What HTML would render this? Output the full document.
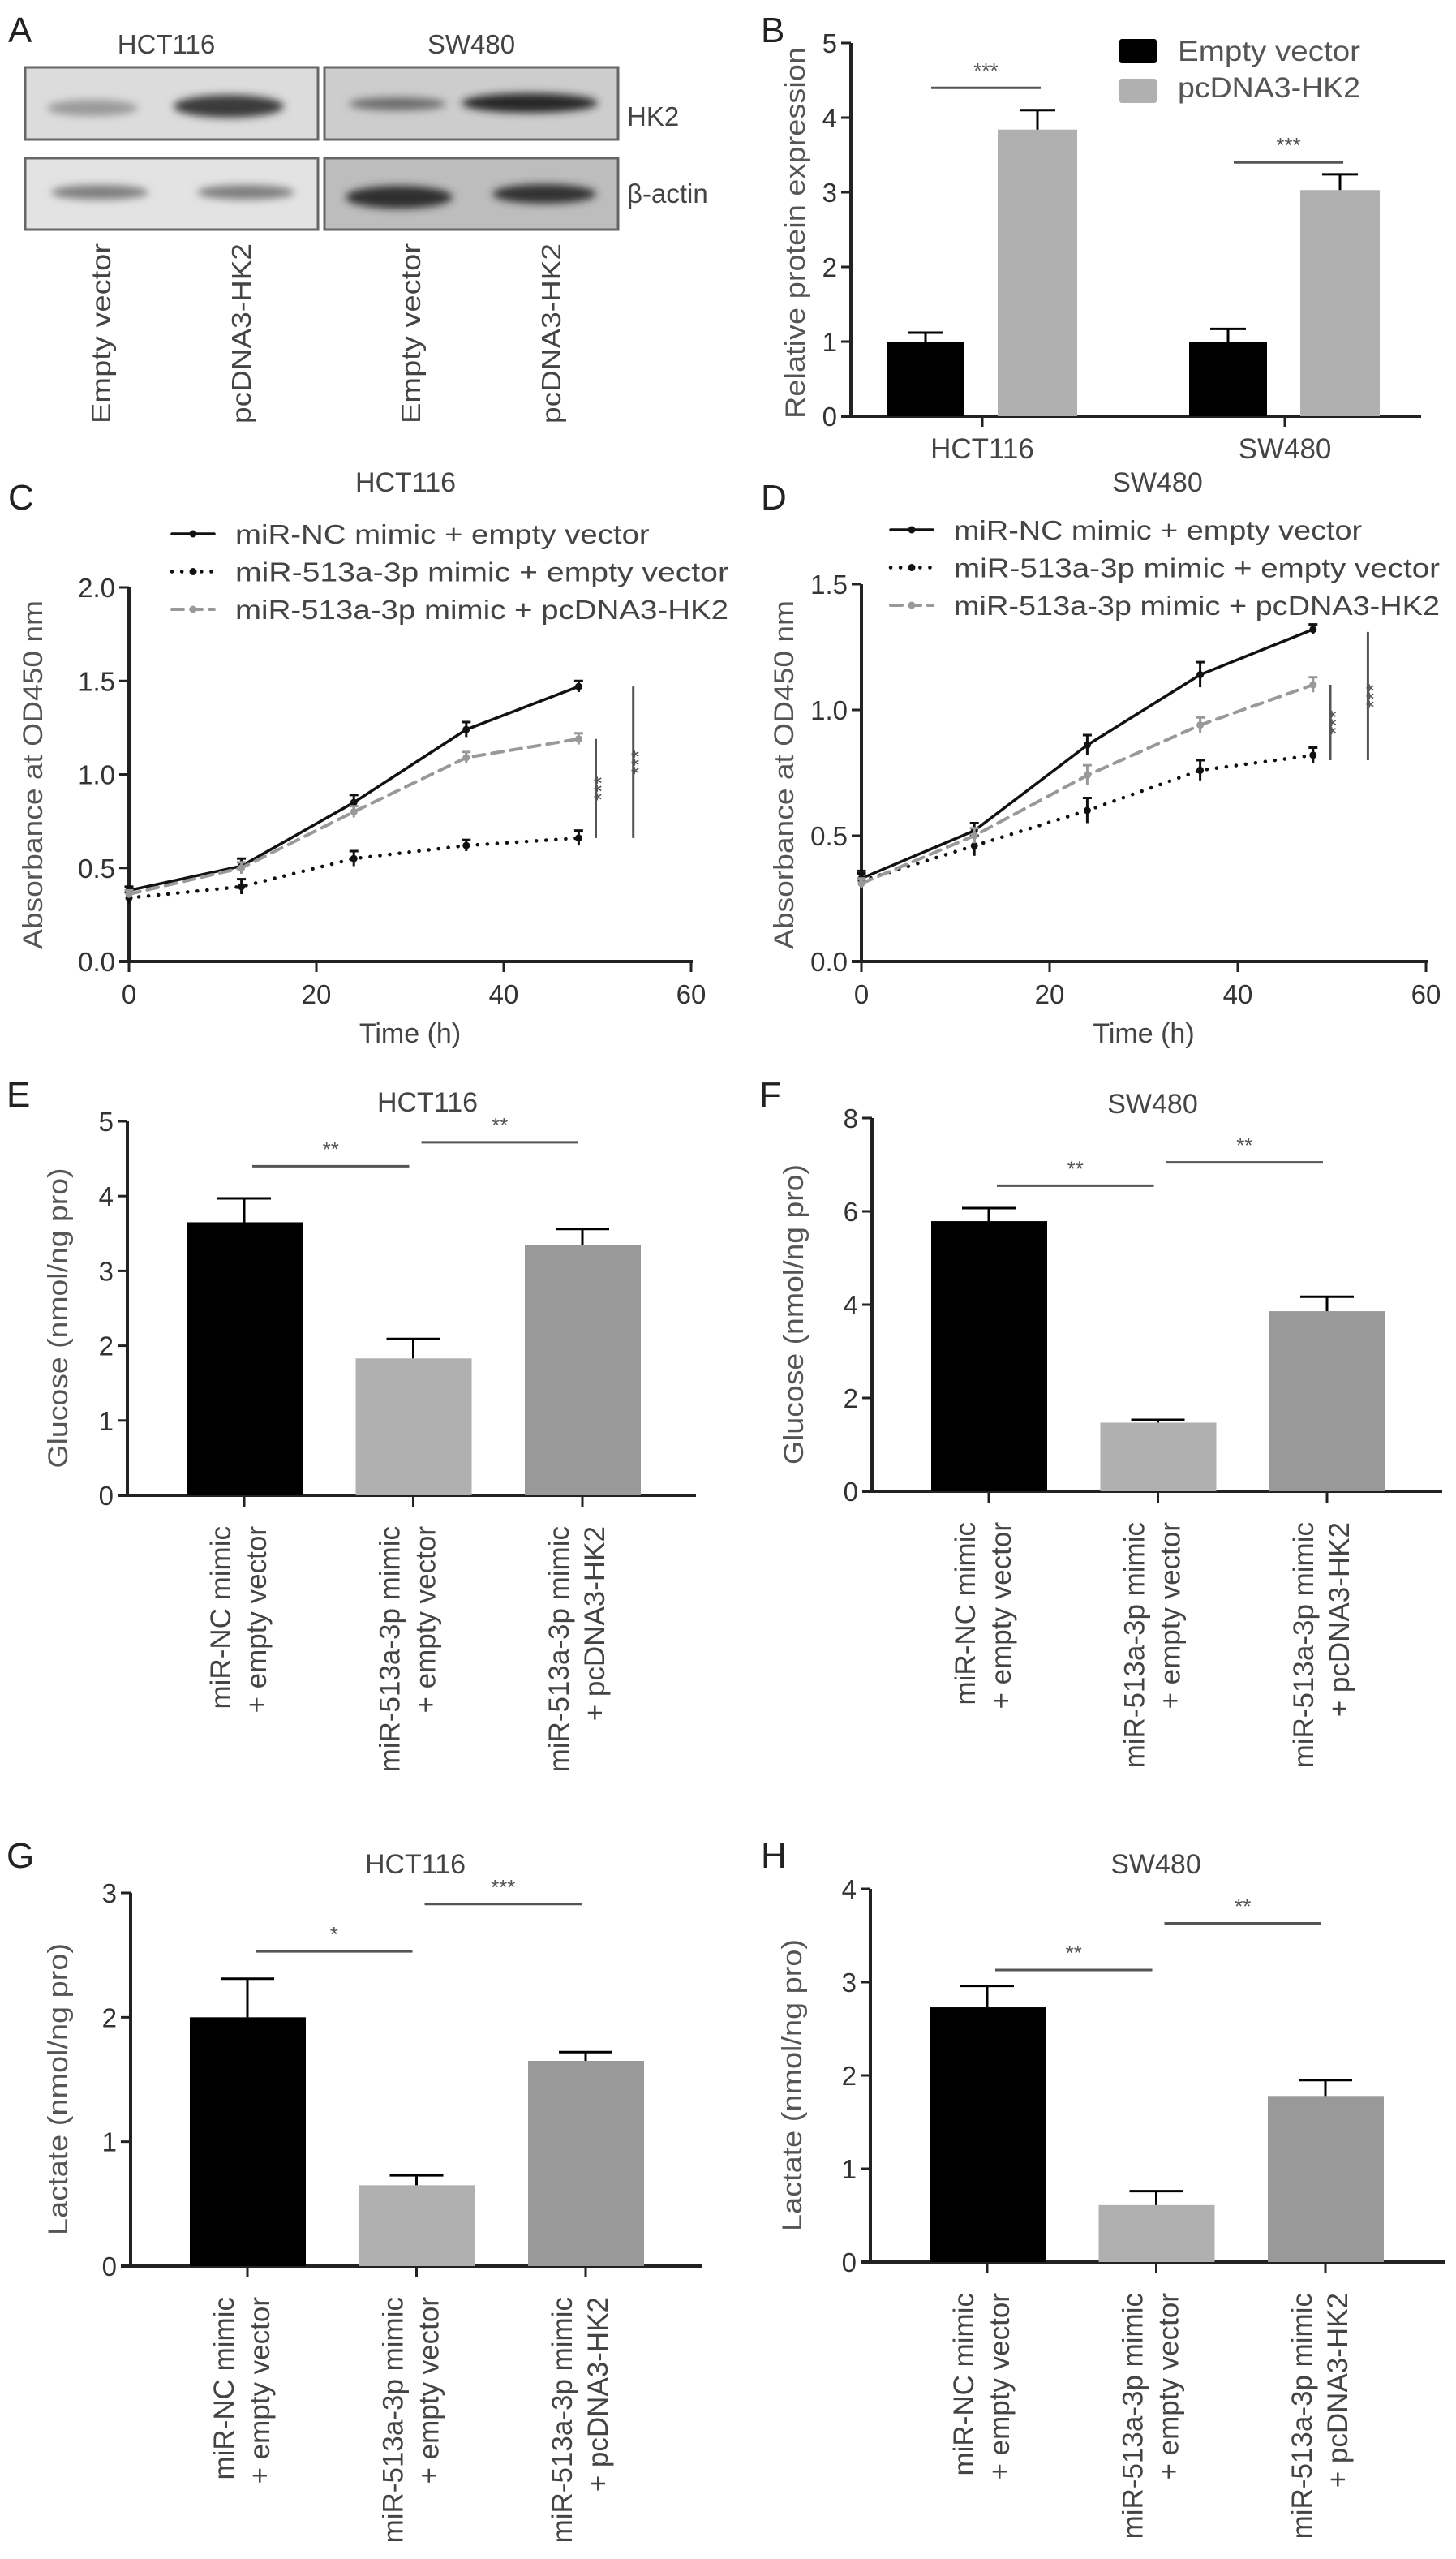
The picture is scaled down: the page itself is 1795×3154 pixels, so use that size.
<!DOCTYPE html>
<html><head><meta charset="utf-8"><title>HK2 figure</title>
<style>
html,body{margin:0;padding:0;background:#fff;}
svg{display:block;font-family:"Liberation Sans",Arial,sans-serif;}
</style></head>
<body>
<svg id="fig" width="1795" height="3154" viewBox="0 0 1795 3154" xmlns="http://www.w3.org/2000/svg">
<defs>
<filter id="blur" x="-30%" y="-80%" width="160%" height="260%"><feGaussianBlur stdDeviation="5"/></filter>
</defs>
<!-- Panel A: western blot -->
<g>
<text x="10" y="52" font-size="44" fill="#222">A</text>
<text x="205" y="66" font-size="33" fill="#444" text-anchor="middle">HCT116</text>
<text x="581" y="66" font-size="33" fill="#444" text-anchor="middle">SW480</text>
<rect x="31" y="83" width="361" height="89" fill="#dcdcdc" stroke="#666" stroke-width="3"/>
<rect x="400" y="83" width="362" height="89" fill="#cdcdcd" stroke="#666" stroke-width="3"/>
<rect x="31" y="195" width="361" height="88" fill="#e3e3e3" stroke="#666" stroke-width="3"/>
<rect x="400" y="195" width="362" height="88" fill="#bdbdbd" stroke="#666" stroke-width="3"/>
<g filter="url(#blur)">
<ellipse cx="114" cy="133" rx="56" ry="10" fill="#9a9a9a"/>
<ellipse cx="282" cy="131" rx="68" ry="14" fill="#3a3a3a"/>
<ellipse cx="490" cy="128" rx="60" ry="8" fill="#6a6a6a"/>
<ellipse cx="653" cy="127" rx="84" ry="12" fill="#262626"/>
<ellipse cx="123" cy="237" rx="60" ry="9" fill="#7e7e7e"/>
<ellipse cx="303" cy="237" rx="60" ry="9" fill="#7e7e7e"/>
<ellipse cx="492" cy="243" rx="66" ry="14" fill="#2e2e2e"/>
<ellipse cx="671" cy="239" rx="64" ry="12" fill="#333"/>
</g>
<text x="773" y="155" font-size="33" fill="#444">HK2</text>
<text x="773" y="250" font-size="33" fill="#444">β-actin</text>
<text transform="translate(136,300) rotate(-90)" font-size="33" fill="#444" text-anchor="end" textLength="222" lengthAdjust="spacingAndGlyphs">Empty vector</text>
<text transform="translate(309,300) rotate(-90)" font-size="33" fill="#444" text-anchor="end" textLength="222" lengthAdjust="spacingAndGlyphs">pcDNA3-HK2</text>
<text transform="translate(518,300) rotate(-90)" font-size="33" fill="#444" text-anchor="end" textLength="222" lengthAdjust="spacingAndGlyphs">Empty vector</text>
<text transform="translate(691,300) rotate(-90)" font-size="33" fill="#444" text-anchor="end" textLength="222" lengthAdjust="spacingAndGlyphs">pcDNA3-HK2</text>
</g>
<text x="938" y="52" font-size="44" fill="#222">B</text>
<text x="10" y="628" font-size="44" fill="#222">C</text>
<text x="938" y="628" font-size="44" fill="#222">D</text>
<text x="8" y="1364" font-size="44" fill="#222">E</text>
<text x="936" y="1364" font-size="44" fill="#222">F</text>
<text x="8" y="2302" font-size="44" fill="#222">G</text>
<text x="938" y="2302" font-size="44" fill="#222">H</text>
</svg>
<script>
// ---------- DATA ----------
// Panel B
const bGroups = ['HCT116', 'SW480'];
const bEmpty = [1.0, 1.0];
const bEmptyErr = [0.12, 0.17];
const bHK2 = [3.84, 3.03];
const bHK2Err = [0.26, 0.21];
const bTicks = [0, 1, 2, 3, 4, 5];
const bSigY = [4.4, 3.4];
const bSigLabel = ['***', '***'];
const bLegend = ['Empty vector', 'pcDNA3-HK2'];

// Panels C/D (time course)
const cdTimes = [0, 12, 24, 36, 48];
const cdXTicks = [0, 20, 40, 60];
const lineLegend = ['miR-NC mimic + empty vector', 'miR-513a-3p mimic + empty vector', 'miR-513a-3p mimic + pcDNA3-HK2'];
const cNC = [0.38, 0.51, 0.85, 1.24, 1.47];
const cNCErr = [0.02, 0.04, 0.04, 0.04, 0.03];
const c513 = [0.34, 0.40, 0.55, 0.62, 0.66];
const c513Err = [0.03, 0.04, 0.04, 0.03, 0.04];
const cHK2 = [0.36, 0.50, 0.80, 1.09, 1.19];
const cHK2Err = [0.02, 0.03, 0.03, 0.03, 0.03];
const cYTicks = ['0.0', '0.5', '1.0', '1.5', '2.0'];
const cSigTop = [1.19, 1.47];
const cSigBottom = [0.66, 0.66];
const dNC = [0.33, 0.52, 0.86, 1.14, 1.32];
const dNCErr = [0.03, 0.03, 0.04, 0.05, 0.02];
const d513 = [0.32, 0.46, 0.60, 0.76, 0.82];
const d513Err = [0.03, 0.04, 0.05, 0.04, 0.03];
const dHK2 = [0.31, 0.50, 0.74, 0.94, 1.10];
const dHK2Err = [0.02, 0.03, 0.04, 0.03, 0.03];
const dYTicks = ['0.0', '0.5', '1.0', '1.5'];
const dSigTop = [1.10, 1.31];
const dSigBottom = [0.80, 0.80];

// Panels E-H (bar charts)
const groupLine1 = ['miR-NC mimic', 'miR-513a-3p mimic', 'miR-513a-3p mimic'];
const groupLine2 = ['+ empty vector', '+ empty vector', '+ pcDNA3-HK2'];
const eValues = [3.65, 1.83, 3.35];
const eErr = [0.32, 0.26, 0.21];
const eTicks = [0, 1, 2, 3, 4, 5];
const eSigY = [4.4, 4.72];
const eSigLabel = ['**', '**'];
const fValues = [5.79, 1.47, 3.86];
const fErr = [0.28, 0.06, 0.31];
const fTicks = [0, 2, 4, 6, 8];
const fSigY = [6.55, 7.05];
const fSigLabel = ['**', '**'];
const gValues = [2.0, 0.65, 1.65];
const gErr = [0.31, 0.08, 0.07];
const gTicks = [0, 1, 2, 3];
const gSigY = [2.53, 2.91];
const gSigLabel = ['*', '***'];
const hValues = [2.73, 0.61, 1.78];
const hErr = [0.23, 0.15, 0.17];
const hTicks = [0, 1, 2, 3, 4];
const hSigY = [3.13, 3.63];
const hSigLabel = ['**', '**'];

// ---------- DRAWING ----------
const NS = 'http://www.w3.org/2000/svg';
const svg = document.getElementById('fig');
function mk(tag, attrs, parent) {
  const e = document.createElementNS(NS, tag);
  for (const k in attrs) e.setAttribute(k, attrs[k]);
  (parent || svg).appendChild(e);
  return e;
}
function tx(s, attrs, parent) { const e = mk('text', attrs, parent); e.textContent = s; return e; }

function axes(g, x0, y0, yTop, xEnd, yMax, ticks, tickLabels) {
  const ya = mk('line', {x1: x0, y1: y0 + 2, x2: x0, y2: yTop, stroke: '#222', 'stroke-width': 4}, g);
  
  
  const xa = mk('line', {x1: x0 - 12, y1: y0, x2: xEnd, y2: y0, stroke: '#222', 'stroke-width': 4}, g);
  
  
  ticks.forEach((t, i) => {
    const y = y0 - t / yMax * (y0 - yTop);
    const tk = mk('line', {x1: x0 - 12, y1: y, x2: x0, y2: y, stroke: '#222', 'stroke-width': 3}, g);
    
    
    const lb = tx(tickLabels ? tickLabels[i] : String(t), {x: x0 - 17, y: y + 12, 'font-size': 33, fill: '#333', 'text-anchor': 'end'}, g);
    
    
  });
}
function yTitle(g, s, x, yc, len) {
  const t = tx(s, {transform: 'translate(' + x + ',' + yc + ') rotate(-90)', 'font-size': 34, fill: '#555', 'text-anchor': 'middle', textLength: len, lengthAdjust: 'spacingAndGlyphs'}, g);
  
  
}
function title(g, s, x, y) {
  const t = tx(s, {x: x, y: y, 'font-size': 34, fill: '#444', 'text-anchor': 'middle'}, g);
  
  
}
function errBar(g, cx, yTopBar, yErr, cap, color, sw) {
  const v = mk('line', {x1: cx, y1: yTopBar, x2: cx, y2: yErr, stroke: color, 'stroke-width': sw}, g);
  
  
  const c = mk('line', {x1: cx - cap / 2, y1: yErr, x2: cx + cap / 2, y2: yErr, stroke: color, 'stroke-width': sw}, g);
  
  
}
function sigH(g, xa, xb, y, label) {
  const l = mk('line', {x1: xa, y1: y, x2: xb, y2: y, stroke: '#555', 'stroke-width': 3}, g);
  
  
  const t = tx(label, {x: (xa + xb) / 2, y: y - 12, 'font-size': 26, fill: '#555', 'text-anchor': 'middle'}, g);
  
  
}

// Panel B
(function () {
  const g = mk('g', {});
  
  
  const x0 = 1049, y0 = 513, yTop = 53, yMax = 5, xEnd = 1752;
  const ys = v => y0 - v / yMax * (y0 - yTop);
  axes(g, x0, y0, yTop, xEnd, yMax, bTicks);
  yTitle(g, 'Relative protein expression', 992, 287, 458);
  bGroups.forEach((name, i) => {
    const gc = 1211 + i * 373;
    const tk = mk('line', {x1: gc, y1: y0, x2: gc, y2: y0 + 13, stroke: '#222', 'stroke-width': 3}, g);
    
    
    const lb = tx(name, {x: gc, y: 565, 'font-size': 35, fill: '#444', 'text-anchor': 'middle'}, g);
    
    
    const b1 = mk('rect', {x: gc - 118, y: ys(bEmpty[i]), width: 96, height: y0 - ys(bEmpty[i]), fill: '#000'}, g);
    
    
    errBar(g, gc - 70, ys(bEmpty[i]), ys(bEmpty[i] + bEmptyErr[i]), 44, '#000', 3);
    const b2 = mk('rect', {x: gc + 19, y: ys(bHK2[i]), width: 98, height: y0 - ys(bHK2[i]), fill: '#b0b0b0'}, g);
    
    
    errBar(g, gc + 68, ys(bHK2[i]), ys(bHK2[i] + bHK2Err[i]), 44, '#000', 3);
    sigH(g, gc - 63, gc + 72, ys(bSigY[i]), bSigLabel[i]);
  });
  const colors = ['#000', '#b0b0b0'];
  bLegend.forEach((s, i) => {
    const r = mk('rect', {x: 1380, y: 48 + i * 49, width: 46, height: 30, rx: 3, fill: colors[i]}, g);
    
    
    const t = tx(s, {x: 1452, y: 75 + i * 45, 'font-size': 35, fill: '#555', textLength: 225, lengthAdjust: 'spacingAndGlyphs'}, g);
    
    
  });
})();

// Line charts
function linePanel(cfg) {
  const g = mk('g', {});
  
  
  const xs = t => cfg.x0 + t / 60 * (cfg.x60 - cfg.x0);
  const ys = v => cfg.y0 - v / cfg.yMax * (cfg.y0 - cfg.yTop);
  const tickVals = cfg.yTickLabels.map(Number);
  axes(g, cfg.x0, cfg.y0, cfg.yTop, cfg.x60 + 2, cfg.yMax, tickVals, cfg.yTickLabels);
  cdXTicks.forEach(t => {
    const tk = mk('line', {x1: xs(t), y1: cfg.y0, x2: xs(t), y2: cfg.y0 + 13, stroke: '#222', 'stroke-width': 3}, g);
    
    
    const lb = tx(String(t), {x: xs(t), y: cfg.y0 + 52, 'font-size': 33, fill: '#333', 'text-anchor': 'middle'}, g);
    
    
  });
  const xt = tx('Time (h)', {x: (cfg.x0 + cfg.x60) / 2 + 0, y: cfg.y0 + 100, 'font-size': 34, fill: '#444', 'text-anchor': 'middle'}, g);
  
  
  yTitle(g, 'Absorbance at OD450 nm', cfg.yTitleX, 955, 430);
  title(g, cfg.title, cfg.titleX, 606);
  const styles = [
    {stroke: '#111', dash: null, w: 3.5, mc: '#111'},
    {stroke: '#111', dash: '0.1 12', w: 4.5, mc: '#111'},
    {stroke: '#999', dash: '14 9', w: 4, mc: '#999'}
  ];
  cfg.series.forEach((s, si) => {
    const st = styles[si];
    const pts = cdTimes.map((t, i) => xs(t) + ',' + ys(s.v[i])).join(' ');
    const attrs = {points: pts, fill: 'none', stroke: st.stroke, 'stroke-width': st.w, 'stroke-linecap': 'round', 'stroke-linejoin': 'round'};
    if (st.dash) attrs['stroke-dasharray'] = st.dash;
    const pl = mk('polyline', attrs, g);
    
    
    cdTimes.forEach((t, i) => {
      const cx = xs(t);
      errBar(g, cx, ys(s.v[i] - s.e[i]), ys(s.v[i] + s.e[i]), 11, st.mc, 3);
      const c = mk('circle', {cx: cx, cy: ys(s.v[i]), r: 4.5, fill: st.mc}, g);
      
      
    });
    // legend
    const ly = cfg.legY + si * 46.5;
    const la = {x1: cfg.legX, y1: ly, x2: cfg.legX + 52, y2: ly, stroke: st.stroke, 'stroke-width': st.w, 'stroke-linecap': 'round'};
    if (st.dash) la['stroke-dasharray'] = st.dash;
    const ll = mk('line', la, g);
    
    
    const lm = mk('circle', {cx: cfg.legX + 26, cy: ly, r: 4.5, fill: st.mc}, g);
    
    
    const lt = tx(lineLegend[si], {x: cfg.legX + 78, y: ly + 12, 'font-size': 33, fill: '#444', textLength: [cfg.legLen * 0.84, cfg.legLen, cfg.legLen][si], lengthAdjust: 'spacingAndGlyphs'}, g);
    
    
  });
  [50, 54].forEach((t, k) => {
    const x = xs(t) - 2;
    const l = mk('line', {x1: x, y1: ys(cfg.sigTop[k]), x2: x, y2: ys(cfg.sigBottom[k]), stroke: '#555', 'stroke-width': 3}, g);
    
    
    const mid = (ys(cfg.sigTop[k]) + ys(cfg.sigBottom[k])) / 2;
    const a = tx('***', {transform: 'translate(' + (x + 16) + ',' + mid + ') rotate(-90)', 'font-size': 26, fill: '#555', 'text-anchor': 'middle'}, g);
    
    
  });
}
linePanel({name: 'panel-c-hct116-proliferation', title: 'HCT116', titleX: 500, x0: 159, x60: 852, y0: 1185, yTop: 724, yMax: 2.0,
  yTickLabels: cYTicks, yTitleX: 52, legX: 212, legY: 658, legLen: 608,
  series: [{v: cNC, e: cNCErr}, {v: c513, e: c513Err}, {v: cHK2, e: cHK2Err}], sigTop: cSigTop, sigBottom: cSigBottom});
linePanel({name: 'panel-d-sw480-proliferation', title: 'SW480', titleX: 1427, x0: 1062, x60: 1758, y0: 1185, yTop: 720, yMax: 1.5,
  yTickLabels: dYTicks, yTitleX: 978, legX: 1098, legY: 653, legLen: 599,
  series: [{v: dNC, e: dNCErr}, {v: d513, e: d513Err}, {v: dHK2, e: dHK2Err}], sigTop: dSigTop, sigBottom: dSigBottom});

// Bar charts E-H
function barPanel(cfg) {
  const g = mk('g', {});
  
  
  const ys = v => cfg.y0 - v / cfg.yMax * (cfg.y0 - cfg.yTop);
  axes(g, cfg.x0, cfg.y0, cfg.yTop, cfg.xEnd, cfg.yMax, cfg.ticks);
  yTitle(g, cfg.yLabel, cfg.yTitleX, (cfg.y0 + cfg.yTop) / 2 + 12, cfg.yLen);
  title(g, cfg.title, cfg.titleX, cfg.titleY);
  const colors = ['#000', '#b0b0b0', '#999'];
  const centers = cfg.values.map((v, i) => cfg.x0 + 144 + i * 208.5);
  cfg.values.forEach((v, i) => {
    const cx = centers[i];
    const b = mk('rect', {x: cx - 71, y: ys(v), width: 143, height: cfg.y0 - ys(v), fill: colors[i]}, g);
    
    
    errBar(g, cx, ys(v), ys(v + cfg.err[i]), 66, '#000', 3);
    const tk = mk('line', {x1: cx, y1: cfg.y0, x2: cx, y2: cfg.y0 + 14, stroke: '#222', 'stroke-width': 3}, g);
    
    
    const l1 = tx(groupLine1[i], {transform: 'translate(' + (cx - 17) + ',' + (cfg.y0 + 38) + ') rotate(-90)', 'font-size': 35, fill: '#444', 'text-anchor': 'end'}, g);
    
    
    const l2 = tx(groupLine2[i], {transform: 'translate(' + (cx + 27) + ',' + (cfg.y0 + 38) + ') rotate(-90)', 'font-size': 35, fill: '#444', 'text-anchor': 'end'}, g);
    
    
  });
  cfg.sigY.forEach((sy, k) => {
    sigH(g, centers[k] + 10, centers[k + 1] - 5, ys(sy), cfg.sigLabel[k]);
  });
}
barPanel({name: 'panel-e-hct116-glucose', title: 'HCT116', titleX: 527, titleY: 1370, x0: 157, y0: 1843, yTop: 1382, yMax: 5, xEnd: 858,
  ticks: eTicks, values: eValues, err: eErr, sigY: eSigY, sigLabel: eSigLabel, yLabel: 'Glucose (nmol/ng pro)', yTitleX: 83, yLen: 370});
barPanel({name: 'panel-f-sw480-glucose', title: 'SW480', titleX: 1421, titleY: 1372, x0: 1075, y0: 1838, yTop: 1378, yMax: 8, xEnd: 1778,
  ticks: fTicks, values: fValues, err: fErr, sigY: fSigY, sigLabel: fSigLabel, yLabel: 'Glucose (nmol/ng pro)', yTitleX: 990, yLen: 370});
barPanel({name: 'panel-g-hct116-lactate', title: 'HCT116', titleX: 512, titleY: 2309, x0: 161, y0: 2793, yTop: 2333, yMax: 3, xEnd: 866,
  ticks: gTicks, values: gValues, err: gErr, sigY: gSigY, sigLabel: gSigLabel, yLabel: 'Lactate (nmol/ng pro)', yTitleX: 83, yLen: 360});
barPanel({name: 'panel-h-sw480-lactate', title: 'SW480', titleX: 1425, titleY: 2309, x0: 1073, y0: 2788, yTop: 2328, yMax: 4, xEnd: 1781,
  ticks: hTicks, values: hValues, err: hErr, sigY: hSigY, sigLabel: hSigLabel, yLabel: 'Lactate (nmol/ng pro)', yTitleX: 988, yLen: 360});
</script>
</body></html>
